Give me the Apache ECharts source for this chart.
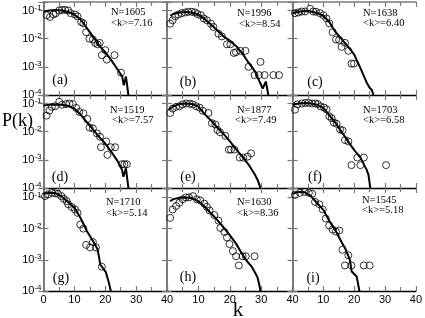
<!DOCTYPE html>
<html><head><meta charset="utf-8">
<script src="https://cdn.jsdelivr.net/npm/echarts@6/dist/echarts.min.js"></script>
<style>html,body{margin:0;padding:0;background:#fff}#c{width:425px;height:318px}</style>
</head><body><div id="c"></div>
<script>
// ---- data: [k, P(k)] ----
const ptsA = [[1.0,0.068],[2.1,0.059],[3.2,0.072],[4.0,0.08],[5.1,0.1],[6,0.105],[7,0.105],[8,0.1],[8.8,0.08],[10.2,0.072],[11,0.062],[12.2,0.039],[12.9,0.035],[13.8,0.017],[14.9,0.01],[16,0.0093],[16.7,0.0071],[17.5,0.0063],[18.2,0.0071],[18.9,0.0026],[20,0.0039],[20.5,0.0018],[23,0.0026],[25.1,0.00062]];
const lineA = [[0,0.09],[2,0.1],[4,0.105],[6,0.1],[8,0.088],[10,0.072],[12,0.048],[14,0.024],[16,0.012],[18,0.0058],[20,0.0033],[22,0.0017],[24,0.0008],[25.5,0.00045],[26,0.00022],[26.7,0.00045],[27.5,0.0001]];
const ptsB = [[1,0.034],[1.8,0.045],[2.6,0.062],[3.6,0.072],[4.7,0.08],[5.8,0.085],[6.8,0.09],[7.9,0.09],[8.9,0.085],[9.7,0.075],[10.8,0.068],[11.7,0.052],[12.7,0.045],[14,0.034],[14.8,0.026],[16.4,0.015],[17.5,0.012],[19.1,0.0063],[20.2,0.0063],[21.3,0.0031],[22,0.0033],[23.4,0.0037],[25,0.0037],[26,0.001],[27.9,0.00051],[29.3,0.00051],[29.8,0.0015],[31.1,0.00051],[33.9,0.00051],[35.7,0.00051]];
const lineB = [[1,0.065],[2,0.075],[4,0.085],[6,0.088],[8,0.085],[10,0.072],[12,0.05],[14,0.032],[16,0.02],[18,0.012],[20,0.0085],[22,0.0055],[24,0.003],[26,0.0014],[28,0.0007],[29.5,0.0003],[30.5,0.00017],[31.5,0.0003],[32.3,0.0001]];
const ptsC = [[0.8,0.08],[1.9,0.085],[3,0.092],[4.1,0.092],[5.7,0.115],[6.7,0.092],[7.6,0.09],[8.9,0.08],[10,0.068],[11,0.052],[11.9,0.035],[13,0.017],[14.1,0.0093],[15.1,0.009],[15.9,0.0051],[17,0.0071],[18.1,0.0037],[19.1,0.0013],[19.9,0.0013]];
const lineC = [[0,0.08],[2,0.09],[4,0.095],[6,0.092],[8,0.082],[10,0.065],[12,0.038],[13,0.025],[14,0.017],[16,0.0095],[18,0.0052],[20,0.0027],[22,0.0009],[24,0.00028],[25,0.00018],[25.7,0.00015],[26.2,0.0001]];
const ptsD = [[1,0.037],[1.9,0.056],[2.7,0.076],[3.8,0.08],[5.1,0.115],[6,0.09],[7.3,0.095],[8.4,0.1],[9.5,0.095],[10.6,0.07],[11.6,0.05],[12.9,0.045],[14.2,0.028],[14.9,0.014],[16,0.013],[17.3,0.0087],[18.3,0.0066],[18.6,0.0028],[20.3,0.0045],[20.7,0.0015],[21.8,0.0028],[23.2,0.0028],[25.4,0.0007],[26.2,0.0007],[27,0.0007]];
const lineD = [[0,0.085],[2,0.09],[4,0.092],[6,0.09],[8,0.082],[10,0.065],[12,0.041],[14,0.022],[16,0.012],[18,0.0065],[20,0.0038],[22,0.0019],[24,0.0009],[25.4,0.00045],[25.9,0.00025],[26.7,0.0005],[27.5,0.0001]];
const ptsE = [[1,0.046],[1.8,0.066],[2.9,0.076],[4,0.08],[5,0.093],[6.1,0.1],[7.2,0.098],[8.2,0.093],[9.3,0.08],[10.4,0.071],[11.4,0.055],[13.2,0.046],[14.3,0.02],[15.4,0.018],[16.1,0.0115],[16.9,0.0095],[18.6,0.0071],[19.7,0.0023],[20.4,0.0023],[21.5,0.0023],[23.2,0.0012],[24.3,0.0012],[25.7,0.0013],[26.8,0.0017]];
const lineE = [[0.5,0.06],[2,0.08],[4,0.095],[6,0.1],[8,0.095],[10,0.078],[12,0.042],[14,0.025],[16,0.014],[18,0.0083],[20,0.0046],[22,0.0024],[24,0.0013],[26,0.00068],[28,0.0003],[29,0.00018],[29.8,0.0001]];
const ptsF = [[0.8,0.06],[1.6,0.093],[3,0.1],[4.1,0.105],[5.2,0.105],[6.3,0.1],[7.4,0.1],[8.2,0.095],[9.1,0.079],[10.2,0.072],[11,0.062],[11.9,0.035],[12.7,0.03],[13.4,0.021],[14.3,0.019],[15.4,0.012],[16.2,0.011],[17,0.005],[18.1,0.0045],[19.1,0.00065],[21,0.0012],[22,0.00065],[23.1,0.0012],[30.3,0.00065]];
const lineF = [[0,0.09],[2,0.1],[4,0.105],[6,0.1],[8,0.09],[10,0.07],[12,0.037],[14,0.02],[16,0.0095],[18,0.0045],[20,0.0022],[22,0.0012],[24,0.00045],[24.6,0.0003],[25.2,0.0001]];
const ptsG = [[0.5,0.11],[1.5,0.125],[2.7,0.14],[3.7,0.135],[4.7,0.13],[5.8,0.11],[6.6,0.09],[7.5,0.076],[8,0.06],[9.2,0.049],[10.2,0.041],[11,0.032],[11.9,0.0135],[12.9,0.01],[13.8,0.003],[15.1,0.0025],[16,0.0037],[17,0.0025],[18.9,0.0006]];
const lineG = [[0,0.13],[2,0.14],[4,0.135],[6,0.105],[8,0.07],[10,0.047],[12,0.022],[14,0.0085],[16,0.004],[17.5,0.0022],[18,0.0012],[18.4,0.0007],[20.2,0.0004],[21.2,0.00018],[21.8,0.0001]];
const ptsH = [[1,0.022],[1.8,0.041],[2.9,0.053],[3.9,0.067],[5,0.087],[6,0.1],[7,0.1],[8.3,0.11],[9.5,0.087],[10.6,0.08],[11.9,0.063],[12.7,0.05],[13.6,0.038],[15.1,0.027],[16.4,0.018],[17,0.0105],[18.3,0.0078],[19.1,0.0052],[19.9,0.0032],[21,0.0019],[22,0.0013],[22.9,0.00066],[24.1,0.0013],[25.1,0.0013],[27.9,0.0013]];
const lineH = [[1,0.075],[2,0.088],[4,0.098],[6,0.1],[8,0.095],[10,0.075],[12,0.05],[14,0.031],[16,0.019],[18,0.011],[20,0.0062],[22,0.0033],[24,0.0015],[25.5,0.0009],[27,0.0006],[28,0.0004],[28.8,0.00028],[29.3,0.00018],[29.8,0.0001]];
const ptsI = [[0.8,0.12],[2.4,0.14],[3.9,0.15],[5.3,0.14],[6.4,0.13],[7.3,0.072],[8.7,0.06],[9.8,0.041],[10.8,0.021],[11.9,0.0125],[13,0.0093],[14.1,0.008],[15.2,0.0087],[16.2,0.0021],[17,0.00066],[18.1,0.0014],[19.1,0.00066],[23.1,0.00066],[25,0.00066]];
const lineI = [[0,0.13],[2,0.15],[4,0.145],[6,0.11],[8,0.065],[10,0.04],[11,0.026],[12,0.017],[14,0.0085],[16,0.0035],[17,0.0024],[18,0.0014],[18.6,0.001],[19.2,0.00042],[20.8,0.00029],[21.7,0.0001]];

const panelLabels = ['(a)','(b)','(c)','(d)','(e)','(f)','(g)','(h)','(i)'];
const nValues = ['1605','1996','1638','1519','1877','1703','1710','1630','1545'];
const kMeans = ['7.16','8.54','6.40','7.57','7.49','6.58','5.14','8.36','5.18'];
const xMin = 0, xMax = 40, xStep = 10;
const yMin = 1e-4, yMax = 0.2;

const allPts = [ptsA,ptsB,ptsC,ptsD,ptsE,ptsF,ptsG,ptsH,ptsI];
const allLines = [lineA,lineB,lineC,lineD,lineE,lineF,lineG,lineH,lineI];

// ---- layout ----
const colL = [43.5, 167, 292.5], colR = [167, 292.5, 416];
const rowT = [2, 95, 188], rowB = [95, 188, 291];
const nPos = [[111,12,111,23],[237,13,239,24],[363,13,363,23],[110,110,112,120],[237,110,235,120],[363,110,363,120],[106,202,106,213],[237,202,237,213],[362,200,362,210]];
const lblPos = [[60,80],[188,82],[315,82],[60,177],[188,177],[315,177],[61,278],[188,277],[313,278]];

const SERIF = '"Liberation Serif","DejaVu Serif",serif';
const SANS = '"Liberation Sans","DejaVu Sans",sans-serif';
const GRAY = '#7a7a7a';

const grid = [], xAxis = [], yAxis = [], series = [], graphic = [];
for (let i = 0; i < 9; i++) {
  const r = Math.floor(i/3), c = i%3;
  grid.push({left: colL[c], top: rowT[r], width: colR[c]-colL[c], height: rowB[r]-rowT[r]});
  const tick = {show:true, inside:true, length:5, lineStyle:{color:GRAY, width:1.2}};
  const minor = {show:true, splitNumber:2, length:4, lineStyle:{color:GRAY, width:1.2}};
  xAxis.push({type:'value', gridIndex:i, min:xMin, max:xMax, interval:xStep, position:'bottom',
    axisLine:{show:true, onZero:false, lineStyle:{color:'#000', width:1.3}},
    axisTick:tick, minorTick:minor, splitLine:{show:false}, minorSplitLine:{show:false},
    axisLabel:{show:r===2, margin:3, fontFamily:SANS, fontSize:11, color:'#000',
      formatter: v => (c>0 && v===0) ? '' : String(v)}});
  xAxis.push({type:'value', gridIndex:i, min:xMin, max:xMax, interval:xStep, position:'top',
    axisLine:{show:r===0, onZero:false, lineStyle:{color:GRAY, width:1.5}},
    axisTick:tick, minorTick:minor, splitLine:{show:false}, axisLabel:{show:false}});
  const yl = {type:'log', logBase:10, gridIndex:i, min:yMin, max:yMax,
    axisLine:{show:true, lineStyle:{color:GRAY, width:1.8}},
    axisTick:{show:true, inside:true, length:5, lineStyle:{color:GRAY, width:1.2}},
    splitLine:{show:false}};
  yAxis.push(Object.assign({}, yl, {position:'left',
    axisLabel:{show:c===0, margin:2, color:'#000', showMaxLabel:true,
      formatter: v => { const e = Math.log10(v); const re = Math.round(e);
        if (Math.abs(e-re) > 1e-6) return ''; return '{b|10}{s|' + re + '}'; },
      rich:{b:{fontFamily:SANS, fontSize:11, color:'#000', lineHeight:14},
            s:{fontFamily:SANS, fontSize:8, color:'#000', verticalAlign:'top', lineHeight:8}}}}));
  yAxis.push(Object.assign({}, yl, {position:'right', axisLabel:{show:false}}));
  series.push({type:'line', xAxisIndex:2*i, yAxisIndex:2*i, data:allLines[i], showSymbol:false,
    lineStyle:{color:'#000', width:2}, z:3, animation:false});
  series.push({type:'scatter', xAxisIndex:2*i, yAxisIndex:2*i, data:allPts[i], symbol:'circle', symbolSize:7,
    itemStyle:{color:'rgba(0,0,0,0)', borderColor:'#000', borderWidth:1}, z:4, animation:false});
  const p = nPos[i];
  graphic.push({type:'text', x:p[0], y:p[1], style:{text:'N=' + nValues[i], font:'10.5px ' + SERIF, fill:'#000', textVerticalAlign:'middle'}});
  graphic.push({type:'text', x:p[2], y:p[3], style:{text:'<k>=' + kMeans[i], font:'10.5px ' + SERIF, fill:'#000', textVerticalAlign:'middle'}});
  graphic.push({type:'text', x:lblPos[i][0], y:lblPos[i][1], style:{text:panelLabels[i], font:'14px ' + SERIF, fill:'#000', textAlign:'center', textVerticalAlign:'middle'}});
}
graphic.push({type:'text', x:2, y:121, style:{text:'P(k)', font:'18px ' + SERIF, fill:'#000', textVerticalAlign:'middle'}});
graphic.push({type:'text', x:238, y:310, style:{text:'k', font:'21px ' + SERIF, fill:'#000', textAlign:'center', textVerticalAlign:'middle'}});

const chart = echarts.init(document.getElementById('c'), null, {renderer:'canvas'});
chart.setOption({animation:false, backgroundColor:'#fff', grid, xAxis, yAxis, series, graphic});
</script></body></html>
